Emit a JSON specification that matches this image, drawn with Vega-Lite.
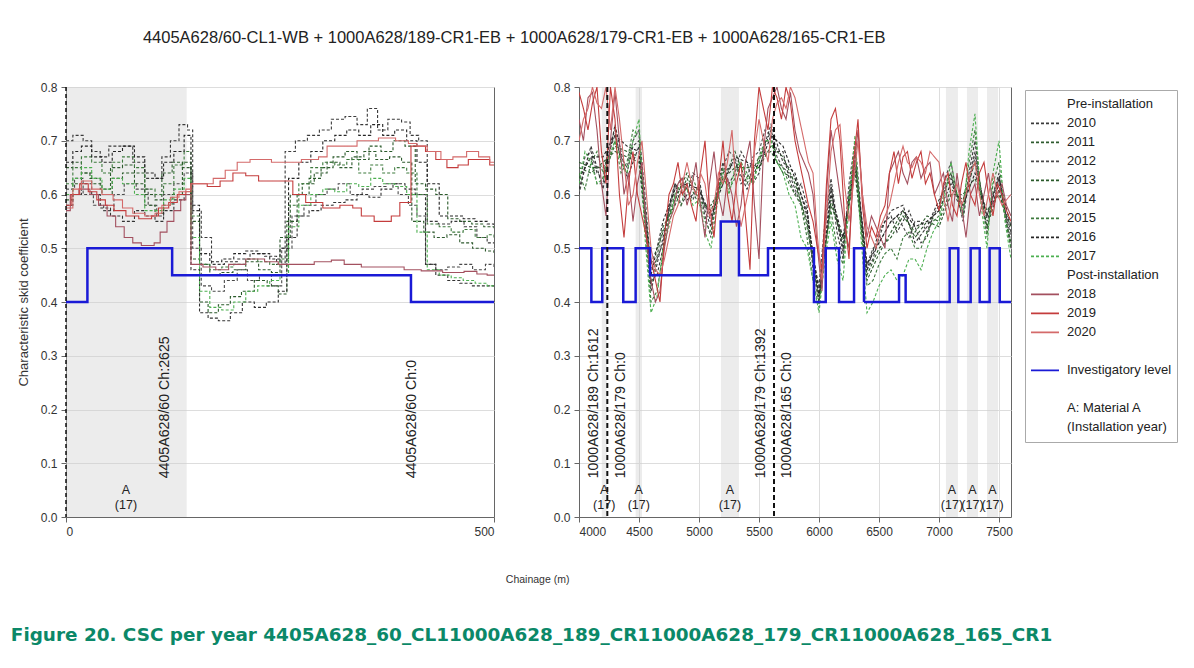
{
"$schema": "https://vega.github.io/schema/vega-lite/v6.json",
"padding": {"left": 10, "top": 30, "right": 10, "bottom": 10},
"background": "white",
"config": {
  "font": "Liberation Sans",
  "view": {"stroke": "#666666", "strokeWidth": 1},
  "axis": {"labelFontSize": 12, "labelColor": "#333333", "tickColor": "#666666", "domainColor": "#666666", "gridColor": "#dddddd", "titleFontSize": 13, "titleFontWeight": "normal", "titleColor": "#333333", "titlePadding": 10, "tickSize": 5, "labelPadding": 4},
  "legend": {"orient": "none", "legendX": 959, "legendY": 3, "symbolType": "stroke", "symbolSize": 784, "symbolStrokeWidth": 1.6, "labelFontSize": 13, "labelColor": "#222222", "padding": 5, "strokeColor": "#aaaaaa", "fillColor": "white", "rowPadding": 0, "clipHeight": 18.8, "labelOffset": 7, "labelLimit": 300},
  "concat": {"spacing": 52},
  "title": {"font": "Liberation Sans"}
},
"title": {"text": "4405A628/60-CL1-WB + 1000A628/189-CR1-EB + 1000A628/179-CR1-EB + 1000A628/165-CR1-EB", "fontSize": 16.5, "fontWeight": "normal", "color": "#222222", "offset": 34, "anchor": "middle", "dx": -80},
"datasets": {
  "Lband": [{"a": 0, "b": 141}],
  "Rband": [{"a": 4190, "b": 4232}, {"a": 4472, "b": 4525}, {"a": 5183, "b": 5333}, {"a": 7058, "b": 7158}, {"a": 7233, "b": 7325}, {"a": 7400, "b": 7492}],
  "Lrule": [{"x": 0}],
  "Rrule": [{"x": 4236}, {"x": 5625}],
  "Llab": [{"x": 116, "t": "4405A628/60 Ch:2625"}, {"x": 404, "t": "4405A628/60 Ch:0"}],
  "Rlab": [{"x": 4125, "t": "1000A628/189 Ch:1612"}, {"x": 4347, "t": "1000A628/179 Ch:0"}, {"x": 5514, "t": "1000A628/179 Ch:1392"}, {"x": 5735, "t": "1000A628/165 Ch:0"}],
  "LA": [{"x": 70, "t": "A\n(17)"}],
  "RA": [{"x": 4210, "t": "A\n(17)"}, {"x": 4498, "t": "A\n(17)"}, {"x": 5258, "t": "A\n(17)"}, {"x": 7108, "t": "A\n(17)"}, {"x": 7279, "t": "A\n(17)"}, {"x": 7446, "t": "A\n(17)"}],
  "LB": [{"s": "Investigatory level", "x": 0, "v": 0.4}, {"s": "Investigatory level", "x": 25, "v": 0.5}, {"s": "Investigatory level", "x": 124, "v": 0.45}, {"s": "Investigatory level", "x": 403, "v": 0.4}, {"s": "Investigatory level", "x": 500, "v": 0.4}],
  "RB": [{"s": "Investigatory level", "x": 4000, "v": 0.5}, {"s": "Investigatory level", "x": 4103, "v": 0.4}, {"s": "Investigatory level", "x": 4194, "v": 0.5}, {"s": "Investigatory level", "x": 4369, "v": 0.4}, {"s": "Investigatory level", "x": 4472, "v": 0.5}, {"s": "Investigatory level", "x": 4592, "v": 0.45}, {"s": "Investigatory level", "x": 5181, "v": 0.55}, {"s": "Investigatory level", "x": 5333, "v": 0.45}, {"s": "Investigatory level", "x": 5575, "v": 0.5}, {"s": "Investigatory level", "x": 5958, "v": 0.4}, {"s": "Investigatory level", "x": 6056, "v": 0.5}, {"s": "Investigatory level", "x": 6167, "v": 0.4}, {"s": "Investigatory level", "x": 6292, "v": 0.5}, {"s": "Investigatory level", "x": 6375, "v": 0.4}, {"s": "Investigatory level", "x": 6667, "v": 0.45}, {"s": "Investigatory level", "x": 6722, "v": 0.4}, {"s": "Investigatory level", "x": 7089, "v": 0.5}, {"s": "Investigatory level", "x": 7161, "v": 0.4}, {"s": "Investigatory level", "x": 7264, "v": 0.5}, {"s": "Investigatory level", "x": 7339, "v": 0.4}, {"s": "Investigatory level", "x": 7422, "v": 0.5}, {"s": "Investigatory level", "x": 7506, "v": 0.4}, {"s": "Investigatory level", "x": 7600, "v": 0.4}],
  "L": [
{"s":"2010","x":0,"v":0.70},{"s":"2010","x":8,"v":0.71},{"s":"2010","x":20,"v":0.70},{"s":"2010","x":30,"v":0.68},{"s":"2010","x":40,"v":0.67},{"s":"2010","x":50,"v":0.69},{"s":"2010","x":62,"v":0.69},{"s":"2010","x":78,"v":0.66},{"s":"2010","x":92,"v":0.63},{"s":"2010","x":105,"v":0.63},{"s":"2010","x":112,"v":0.67},{"s":"2010","x":122,"v":0.70},{"s":"2010","x":132,"v":0.73},{"s":"2010","x":142,"v":0.72},{"s":"2010","x":148,"v":0.57},{"s":"2010","x":158,"v":0.52},{"s":"2010","x":170,"v":0.47},{"s":"2010","x":185,"v":0.475},{"s":"2010","x":200,"v":0.48},{"s":"2010","x":215,"v":0.49},{"s":"2010","x":232,"v":0.485},{"s":"2010","x":246,"v":0.47},{"s":"2010","x":256,"v":0.68},{"s":"2010","x":268,"v":0.70},{"s":"2010","x":282,"v":0.71},{"s":"2010","x":296,"v":0.72},{"s":"2010","x":310,"v":0.74},{"s":"2010","x":326,"v":0.745},{"s":"2010","x":340,"v":0.73},{"s":"2010","x":352,"v":0.76},{"s":"2010","x":364,"v":0.72},{"s":"2010","x":376,"v":0.74},{"s":"2010","x":392,"v":0.735},{"s":"2010","x":402,"v":0.71},{"s":"2010","x":412,"v":0.70},{"s":"2010","x":422,"v":0.55},{"s":"2010","x":435,"v":0.545},{"s":"2010","x":450,"v":0.55},{"s":"2010","x":465,"v":0.54},{"s":"2010","x":480,"v":0.52},{"s":"2010","x":492,"v":0.51},{"s":"2010","x":500,"v":0.51},
{"s":"2011","x":0,"v":0.65},{"s":"2011","x":8,"v":0.66},{"s":"2011","x":18,"v":0.64},{"s":"2011","x":28,"v":0.63},{"s":"2011","x":40,"v":0.61},{"s":"2011","x":52,"v":0.65},{"s":"2011","x":66,"v":0.655},{"s":"2011","x":80,"v":0.64},{"s":"2011","x":92,"v":0.60},{"s":"2011","x":104,"v":0.59},{"s":"2011","x":112,"v":0.64},{"s":"2011","x":124,"v":0.66},{"s":"2011","x":136,"v":0.65},{"s":"2011","x":146,"v":0.55},{"s":"2011","x":156,"v":0.47},{"s":"2011","x":168,"v":0.45},{"s":"2011","x":180,"v":0.455},{"s":"2011","x":195,"v":0.46},{"s":"2011","x":210,"v":0.475},{"s":"2011","x":225,"v":0.46},{"s":"2011","x":240,"v":0.455},{"s":"2011","x":250,"v":0.52},{"s":"2011","x":262,"v":0.60},{"s":"2011","x":276,"v":0.62},{"s":"2011","x":290,"v":0.64},{"s":"2011","x":305,"v":0.66},{"s":"2011","x":320,"v":0.65},{"s":"2011","x":334,"v":0.67},{"s":"2011","x":348,"v":0.68},{"s":"2011","x":362,"v":0.665},{"s":"2011","x":378,"v":0.67},{"s":"2011","x":392,"v":0.66},{"s":"2011","x":404,"v":0.55},{"s":"2011","x":418,"v":0.53},{"s":"2011","x":430,"v":0.52},{"s":"2011","x":445,"v":0.525},{"s":"2011","x":460,"v":0.51},{"s":"2011","x":475,"v":0.50},{"s":"2011","x":490,"v":0.495},{"s":"2011","x":500,"v":0.49},
{"s":"2012","x":0,"v":0.61},{"s":"2012","x":10,"v":0.63},{"s":"2012","x":20,"v":0.60},{"s":"2012","x":32,"v":0.58},{"s":"2012","x":44,"v":0.57},{"s":"2012","x":56,"v":0.60},{"s":"2012","x":68,"v":0.62},{"s":"2012","x":82,"v":0.61},{"s":"2012","x":96,"v":0.58},{"s":"2012","x":106,"v":0.56},{"s":"2012","x":114,"v":0.60},{"s":"2012","x":126,"v":0.62},{"s":"2012","x":138,"v":0.64},{"s":"2012","x":148,"v":0.50},{"s":"2012","x":158,"v":0.43},{"s":"2012","x":170,"v":0.42},{"s":"2012","x":185,"v":0.44},{"s":"2012","x":200,"v":0.46},{"s":"2012","x":212,"v":0.44},{"s":"2012","x":226,"v":0.45},{"s":"2012","x":240,"v":0.43},{"s":"2012","x":252,"v":0.50},{"s":"2012","x":264,"v":0.56},{"s":"2012","x":278,"v":0.58},{"s":"2012","x":292,"v":0.60},{"s":"2012","x":305,"v":0.61},{"s":"2012","x":318,"v":0.62},{"s":"2012","x":332,"v":0.60},{"s":"2012","x":346,"v":0.61},{"s":"2012","x":360,"v":0.615},{"s":"2012","x":374,"v":0.62},{"s":"2012","x":388,"v":0.60},{"s":"2012","x":400,"v":0.58},{"s":"2012","x":410,"v":0.56},{"s":"2012","x":420,"v":0.47},{"s":"2012","x":432,"v":0.46},{"s":"2012","x":446,"v":0.465},{"s":"2012","x":460,"v":0.47},{"s":"2012","x":475,"v":0.46},{"s":"2012","x":490,"v":0.47},{"s":"2012","x":500,"v":0.465},
{"s":"2013","x":0,"v":0.59},{"s":"2013","x":8,"v":0.62},{"s":"2013","x":18,"v":0.64},{"s":"2013","x":30,"v":0.62},{"s":"2013","x":42,"v":0.60},{"s":"2013","x":54,"v":0.63},{"s":"2013","x":66,"v":0.64},{"s":"2013","x":80,"v":0.62},{"s":"2013","x":92,"v":0.58},{"s":"2013","x":104,"v":0.565},{"s":"2013","x":114,"v":0.58},{"s":"2013","x":124,"v":0.60},{"s":"2013","x":136,"v":0.66},{"s":"2013","x":146,"v":0.48},{"s":"2013","x":156,"v":0.40},{"s":"2013","x":166,"v":0.38},{"s":"2013","x":178,"v":0.395},{"s":"2013","x":192,"v":0.41},{"s":"2013","x":205,"v":0.42},{"s":"2013","x":220,"v":0.44},{"s":"2013","x":235,"v":0.43},{"s":"2013","x":248,"v":0.415},{"s":"2013","x":258,"v":0.55},{"s":"2013","x":270,"v":0.60},{"s":"2013","x":284,"v":0.63},{"s":"2013","x":298,"v":0.65},{"s":"2013","x":312,"v":0.67},{"s":"2013","x":326,"v":0.68},{"s":"2013","x":340,"v":0.665},{"s":"2013","x":354,"v":0.69},{"s":"2013","x":368,"v":0.68},{"s":"2013","x":382,"v":0.70},{"s":"2013","x":396,"v":0.69},{"s":"2013","x":408,"v":0.62},{"s":"2013","x":420,"v":0.61},{"s":"2013","x":432,"v":0.60},{"s":"2013","x":446,"v":0.555},{"s":"2013","x":460,"v":0.55},{"s":"2013","x":474,"v":0.545},{"s":"2013","x":488,"v":0.54},{"s":"2013","x":500,"v":0.535},
{"s":"2014","x":0,"v":0.58},{"s":"2014","x":8,"v":0.60},{"s":"2014","x":18,"v":0.62},{"s":"2014","x":30,"v":0.60},{"s":"2014","x":40,"v":0.575},{"s":"2014","x":52,"v":0.56},{"s":"2014","x":66,"v":0.55},{"s":"2014","x":80,"v":0.57},{"s":"2014","x":92,"v":0.56},{"s":"2014","x":104,"v":0.55},{"s":"2014","x":114,"v":0.57},{"s":"2014","x":126,"v":0.59},{"s":"2014","x":138,"v":0.60},{"s":"2014","x":146,"v":0.46},{"s":"2014","x":156,"v":0.38},{"s":"2014","x":166,"v":0.37},{"s":"2014","x":178,"v":0.365},{"s":"2014","x":192,"v":0.38},{"s":"2014","x":206,"v":0.40},{"s":"2014","x":220,"v":0.39},{"s":"2014","x":234,"v":0.40},{"s":"2014","x":248,"v":0.42},{"s":"2014","x":258,"v":0.52},{"s":"2014","x":270,"v":0.56},{"s":"2014","x":284,"v":0.57},{"s":"2014","x":298,"v":0.58},{"s":"2014","x":312,"v":0.585},{"s":"2014","x":326,"v":0.59},{"s":"2014","x":340,"v":0.60},{"s":"2014","x":354,"v":0.595},{"s":"2014","x":368,"v":0.61},{"s":"2014","x":382,"v":0.62},{"s":"2014","x":396,"v":0.61},{"s":"2014","x":408,"v":0.60},{"s":"2014","x":420,"v":0.47},{"s":"2014","x":432,"v":0.45},{"s":"2014","x":446,"v":0.44},{"s":"2014","x":460,"v":0.435},{"s":"2014","x":474,"v":0.43},{"s":"2014","x":488,"v":0.43},{"s":"2014","x":500,"v":0.425},
{"s":"2015","x":0,"v":0.62},{"s":"2015","x":8,"v":0.65},{"s":"2015","x":18,"v":0.67},{"s":"2015","x":30,"v":0.66},{"s":"2015","x":42,"v":0.64},{"s":"2015","x":54,"v":0.66},{"s":"2015","x":66,"v":0.67},{"s":"2015","x":80,"v":0.65},{"s":"2015","x":92,"v":0.61},{"s":"2015","x":104,"v":0.60},{"s":"2015","x":114,"v":0.62},{"s":"2015","x":126,"v":0.655},{"s":"2015","x":138,"v":0.68},{"s":"2015","x":146,"v":0.56},{"s":"2015","x":156,"v":0.47},{"s":"2015","x":168,"v":0.46},{"s":"2015","x":182,"v":0.465},{"s":"2015","x":196,"v":0.47},{"s":"2015","x":210,"v":0.48},{"s":"2015","x":224,"v":0.475},{"s":"2015","x":238,"v":0.47},{"s":"2015","x":250,"v":0.48},{"s":"2015","x":260,"v":0.58},{"s":"2015","x":272,"v":0.62},{"s":"2015","x":286,"v":0.65},{"s":"2015","x":300,"v":0.66},{"s":"2015","x":314,"v":0.655},{"s":"2015","x":328,"v":0.665},{"s":"2015","x":342,"v":0.64},{"s":"2015","x":356,"v":0.655},{"s":"2015","x":370,"v":0.64},{"s":"2015","x":384,"v":0.65},{"s":"2015","x":398,"v":0.64},{"s":"2015","x":410,"v":0.60},{"s":"2015","x":422,"v":0.545},{"s":"2015","x":436,"v":0.54},{"s":"2015","x":450,"v":0.53},{"s":"2015","x":464,"v":0.535},{"s":"2015","x":478,"v":0.52},{"s":"2015","x":492,"v":0.525},{"s":"2015","x":500,"v":0.52},
{"s":"2016","x":0,"v":0.66},{"s":"2016","x":8,"v":0.68},{"s":"2016","x":18,"v":0.69},{"s":"2016","x":30,"v":0.67},{"s":"2016","x":42,"v":0.66},{"s":"2016","x":54,"v":0.68},{"s":"2016","x":66,"v":0.69},{"s":"2016","x":80,"v":0.67},{"s":"2016","x":92,"v":0.64},{"s":"2016","x":104,"v":0.63},{"s":"2016","x":114,"v":0.66},{"s":"2016","x":126,"v":0.68},{"s":"2016","x":138,"v":0.71},{"s":"2016","x":146,"v":0.58},{"s":"2016","x":156,"v":0.49},{"s":"2016","x":168,"v":0.475},{"s":"2016","x":182,"v":0.48},{"s":"2016","x":196,"v":0.49},{"s":"2016","x":210,"v":0.495},{"s":"2016","x":224,"v":0.49},{"s":"2016","x":238,"v":0.48},{"s":"2016","x":250,"v":0.50},{"s":"2016","x":260,"v":0.63},{"s":"2016","x":272,"v":0.66},{"s":"2016","x":286,"v":0.68},{"s":"2016","x":300,"v":0.70},{"s":"2016","x":314,"v":0.71},{"s":"2016","x":328,"v":0.72},{"s":"2016","x":342,"v":0.71},{"s":"2016","x":356,"v":0.73},{"s":"2016","x":370,"v":0.71},{"s":"2016","x":384,"v":0.72},{"s":"2016","x":398,"v":0.70},{"s":"2016","x":410,"v":0.66},{"s":"2016","x":422,"v":0.62},{"s":"2016","x":436,"v":0.56},{"s":"2016","x":450,"v":0.56},{"s":"2016","x":464,"v":0.555},{"s":"2016","x":478,"v":0.55},{"s":"2016","x":492,"v":0.545},{"s":"2016","x":500,"v":0.54},
{"s":"2017","x":0,"v":0.60},{"s":"2017","x":8,"v":0.63},{"s":"2017","x":18,"v":0.65},{"s":"2017","x":30,"v":0.63},{"s":"2017","x":42,"v":0.61},{"s":"2017","x":54,"v":0.63},{"s":"2017","x":66,"v":0.62},{"s":"2017","x":80,"v":0.60},{"s":"2017","x":92,"v":0.57},{"s":"2017","x":104,"v":0.57},{"s":"2017","x":114,"v":0.59},{"s":"2017","x":126,"v":0.61},{"s":"2017","x":138,"v":0.63},{"s":"2017","x":146,"v":0.52},{"s":"2017","x":156,"v":0.42},{"s":"2017","x":168,"v":0.39},{"s":"2017","x":182,"v":0.385},{"s":"2017","x":196,"v":0.40},{"s":"2017","x":210,"v":0.42},{"s":"2017","x":224,"v":0.43},{"s":"2017","x":238,"v":0.44},{"s":"2017","x":250,"v":0.45},{"s":"2017","x":260,"v":0.54},{"s":"2017","x":272,"v":0.58},{"s":"2017","x":286,"v":0.60},{"s":"2017","x":300,"v":0.61},{"s":"2017","x":314,"v":0.605},{"s":"2017","x":328,"v":0.62},{"s":"2017","x":342,"v":0.615},{"s":"2017","x":356,"v":0.63},{"s":"2017","x":370,"v":0.62},{"s":"2017","x":384,"v":0.615},{"s":"2017","x":398,"v":0.60},{"s":"2017","x":410,"v":0.53},{"s":"2017","x":422,"v":0.46},{"s":"2017","x":436,"v":0.45},{"s":"2017","x":450,"v":0.445},{"s":"2017","x":464,"v":0.44},{"s":"2017","x":478,"v":0.435},{"s":"2017","x":492,"v":0.43},{"s":"2017","x":500,"v":0.43},
{"s":"2018","x":0,"v":0.57},{"s":"2018","x":5,"v":0.60},{"s":"2018","x":15,"v":0.61},{"s":"2018","x":28,"v":0.60},{"s":"2018","x":38,"v":0.58},{"s":"2018","x":48,"v":0.56},{"s":"2018","x":58,"v":0.54},{"s":"2018","x":68,"v":0.52},{"s":"2018","x":78,"v":0.51},{"s":"2018","x":88,"v":0.505},{"s":"2018","x":103,"v":0.51},{"s":"2018","x":110,"v":0.53},{"s":"2018","x":118,"v":0.55},{"s":"2018","x":126,"v":0.57},{"s":"2018","x":134,"v":0.59},{"s":"2018","x":140,"v":0.60},{"s":"2018","x":146,"v":0.47},{"s":"2018","x":160,"v":0.465},{"s":"2018","x":175,"v":0.46},{"s":"2018","x":190,"v":0.47},{"s":"2018","x":210,"v":0.48},{"s":"2018","x":232,"v":0.475},{"s":"2018","x":248,"v":0.47},{"s":"2018","x":290,"v":0.475},{"s":"2018","x":310,"v":0.478},{"s":"2018","x":325,"v":0.47},{"s":"2018","x":345,"v":0.465},{"s":"2018","x":395,"v":0.46},{"s":"2018","x":415,"v":0.458},{"s":"2018","x":440,"v":0.455},{"s":"2018","x":465,"v":0.457},{"s":"2018","x":480,"v":0.452},{"s":"2018","x":492,"v":0.45},{"s":"2018","x":500,"v":0.45},
{"s":"2019","x":0,"v":0.58},{"s":"2019","x":6,"v":0.60},{"s":"2019","x":16,"v":0.62},{"s":"2019","x":26,"v":0.605},{"s":"2019","x":36,"v":0.59},{"s":"2019","x":46,"v":0.58},{"s":"2019","x":56,"v":0.57},{"s":"2019","x":70,"v":0.56},{"s":"2019","x":85,"v":0.555},{"s":"2019","x":100,"v":0.56},{"s":"2019","x":108,"v":0.575},{"s":"2019","x":120,"v":0.585},{"s":"2019","x":130,"v":0.60},{"s":"2019","x":140,"v":0.605},{"s":"2019","x":146,"v":0.62},{"s":"2019","x":165,"v":0.615},{"s":"2019","x":180,"v":0.625},{"s":"2019","x":195,"v":0.64},{"s":"2019","x":210,"v":0.635},{"s":"2019","x":225,"v":0.625},{"s":"2019","x":250,"v":0.625},{"s":"2019","x":265,"v":0.60},{"s":"2019","x":280,"v":0.585},{"s":"2019","x":300,"v":0.575},{"s":"2019","x":320,"v":0.58},{"s":"2019","x":335,"v":0.575},{"s":"2019","x":345,"v":0.56},{"s":"2019","x":360,"v":0.55},{"s":"2019","x":380,"v":0.56},{"s":"2019","x":390,"v":0.585},{"s":"2019","x":403,"v":0.69},{"s":"2019","x":420,"v":0.68},{"s":"2019","x":432,"v":0.665},{"s":"2019","x":445,"v":0.65},{"s":"2019","x":458,"v":0.655},{"s":"2019","x":470,"v":0.665},{"s":"2019","x":485,"v":0.665},{"s":"2019","x":495,"v":0.655},{"s":"2019","x":500,"v":0.655},
{"s":"2020","x":0,"v":0.575},{"s":"2020","x":8,"v":0.61},{"s":"2020","x":18,"v":0.625},{"s":"2020","x":30,"v":0.61},{"s":"2020","x":42,"v":0.60},{"s":"2020","x":55,"v":0.59},{"s":"2020","x":66,"v":0.575},{"s":"2020","x":78,"v":0.565},{"s":"2020","x":92,"v":0.56},{"s":"2020","x":104,"v":0.565},{"s":"2020","x":112,"v":0.58},{"s":"2020","x":122,"v":0.595},{"s":"2020","x":132,"v":0.605},{"s":"2020","x":140,"v":0.61},{"s":"2020","x":146,"v":0.62},{"s":"2020","x":160,"v":0.62},{"s":"2020","x":172,"v":0.63},{"s":"2020","x":186,"v":0.645},{"s":"2020","x":200,"v":0.66},{"s":"2020","x":215,"v":0.665},{"s":"2020","x":240,"v":0.66},{"s":"2020","x":255,"v":0.66},{"s":"2020","x":275,"v":0.665},{"s":"2020","x":295,"v":0.67},{"s":"2020","x":305,"v":0.69},{"s":"2020","x":318,"v":0.69},{"s":"2020","x":340,"v":0.70},{"s":"2020","x":365,"v":0.705},{"s":"2020","x":385,"v":0.70},{"s":"2020","x":400,"v":0.695},{"s":"2020","x":410,"v":0.69},{"s":"2020","x":422,"v":0.68},{"s":"2020","x":438,"v":0.665},{"s":"2020","x":452,"v":0.67},{"s":"2020","x":468,"v":0.68},{"s":"2020","x":482,"v":0.67},{"s":"2020","x":495,"v":0.66},{"s":"2020","x":500,"v":0.66}
  ],
  "R": [
{"s":"2010","x":4000,"v":0.62},{"s":"2010","x":4100,"v":0.68},{"s":"2010","x":4200,"v":0.63},{"s":"2010","x":4300,"v":0.72},{"s":"2010","x":4400,"v":0.64},{"s":"2010","x":4500,"v":0.70},{"s":"2010","x":4600,"v":0.44},{"s":"2010","x":4700,"v":0.50},{"s":"2010","x":4800,"v":0.62},{"s":"2010","x":4900,"v":0.60},{"s":"2010","x":5000,"v":0.63},{"s":"2010","x":5100,"v":0.54},{"s":"2010","x":5200,"v":0.66},{"s":"2010","x":5300,"v":0.64},{"s":"2010","x":5400,"v":0.66},{"s":"2010","x":5500,"v":0.64},{"s":"2010","x":5600,"v":0.72},{"s":"2010","x":5700,"v":0.68},{"s":"2010","x":5800,"v":0.60},{"s":"2010","x":5900,"v":0.58},{"s":"2010","x":6000,"v":0.40},{"s":"2010","x":6100,"v":0.62},{"s":"2010","x":6200,"v":0.48},{"s":"2010","x":6300,"v":0.68},{"s":"2010","x":6400,"v":0.46},{"s":"2010","x":6500,"v":0.52},{"s":"2010","x":6600,"v":0.56},{"s":"2010","x":6700,"v":0.55},{"s":"2010","x":6800,"v":0.54},{"s":"2010","x":6900,"v":0.52},{"s":"2010","x":7000,"v":0.58},{"s":"2010","x":7100,"v":0.64},{"s":"2010","x":7200,"v":0.56},{"s":"2010","x":7300,"v":0.70},{"s":"2010","x":7400,"v":0.53},{"s":"2010","x":7500,"v":0.64},{"s":"2010","x":7600,"v":0.50},
{"s":"2010","x":4050,"v":0.67},{"s":"2010","x":4150,"v":0.64},{"s":"2010","x":4250,"v":0.69},{"s":"2010","x":4350,"v":0.66},{"s":"2010","x":4450,"v":0.69},{"s":"2010","x":4550,"v":0.58},{"s":"2010","x":4650,"v":0.45},{"s":"2010","x":4750,"v":0.58},{"s":"2010","x":4850,"v":0.58},{"s":"2010","x":4950,"v":0.64},{"s":"2010","x":5050,"v":0.57},{"s":"2010","x":5150,"v":0.61},{"s":"2010","x":5250,"v":0.62},{"s":"2010","x":5350,"v":0.68},{"s":"2010","x":5450,"v":0.62},{"s":"2010","x":5550,"v":0.69},{"s":"2010","x":5650,"v":0.68},{"s":"2010","x":5750,"v":0.63},{"s":"2010","x":5850,"v":0.62},{"s":"2010","x":5950,"v":0.46},{"s":"2010","x":6050,"v":0.54},{"s":"2010","x":6150,"v":0.53},{"s":"2010","x":6250,"v":0.60},{"s":"2010","x":6350,"v":0.55},{"s":"2010","x":6450,"v":0.48},{"s":"2010","x":6550,"v":0.55},{"s":"2010","x":6650,"v":0.53},{"s":"2010","x":6750,"v":0.57},{"s":"2010","x":6850,"v":0.51},{"s":"2010","x":6950,"v":0.56},{"s":"2010","x":7050,"v":0.62},{"s":"2010","x":7150,"v":0.59},{"s":"2010","x":7250,"v":0.64},{"s":"2010","x":7350,"v":0.60},{"s":"2010","x":7450,"v":0.60},{"s":"2010","x":7550,"v":0.56},
{"s":"2011","x":4000,"v":0.65},{"s":"2011","x":4100,"v":0.64},{"s":"2011","x":4200,"v":0.66},{"s":"2011","x":4300,"v":0.68},{"s":"2011","x":4400,"v":0.67},{"s":"2011","x":4500,"v":0.66},{"s":"2011","x":4600,"v":0.43},{"s":"2011","x":4700,"v":0.54},{"s":"2011","x":4800,"v":0.58},{"s":"2011","x":4900,"v":0.63},{"s":"2011","x":5000,"v":0.58},{"s":"2011","x":5100,"v":0.58},{"s":"2011","x":5200,"v":0.62},{"s":"2011","x":5300,"v":0.68},{"s":"2011","x":5400,"v":0.62},{"s":"2011","x":5500,"v":0.67},{"s":"2011","x":5600,"v":0.68},{"s":"2011","x":5700,"v":0.64},{"s":"2011","x":5800,"v":0.63},{"s":"2011","x":5900,"v":0.54},{"s":"2011","x":6000,"v":0.41},{"s":"2011","x":6100,"v":0.58},{"s":"2011","x":6200,"v":0.52},{"s":"2011","x":6300,"v":0.64},{"s":"2011","x":6400,"v":0.44},{"s":"2011","x":6500,"v":0.49},{"s":"2011","x":6600,"v":0.53},{"s":"2011","x":6700,"v":0.57},{"s":"2011","x":6800,"v":0.52},{"s":"2011","x":6900,"v":0.55},{"s":"2011","x":7000,"v":0.54},{"s":"2011","x":7100,"v":0.60},{"s":"2011","x":7200,"v":0.60},{"s":"2011","x":7300,"v":0.63},{"s":"2011","x":7400,"v":0.57},{"s":"2011","x":7500,"v":0.60},{"s":"2011","x":7600,"v":0.54},
{"s":"2012","x":4000,"v":0.60},{"s":"2012","x":4100,"v":0.67},{"s":"2012","x":4200,"v":0.62},{"s":"2012","x":4300,"v":0.71},{"s":"2012","x":4400,"v":0.65},{"s":"2012","x":4500,"v":0.72},{"s":"2012","x":4600,"v":0.46},{"s":"2012","x":4700,"v":0.51},{"s":"2012","x":4800,"v":0.61},{"s":"2012","x":4900,"v":0.61},{"s":"2012","x":5000,"v":0.62},{"s":"2012","x":5100,"v":0.52},{"s":"2012","x":5200,"v":0.65},{"s":"2012","x":5300,"v":0.67},{"s":"2012","x":5400,"v":0.63},{"s":"2012","x":5500,"v":0.68},{"s":"2012","x":5600,"v":0.71},{"s":"2012","x":5700,"v":0.65},{"s":"2012","x":5800,"v":0.61},{"s":"2012","x":5900,"v":0.57},{"s":"2012","x":6000,"v":0.43},{"s":"2012","x":6100,"v":0.63},{"s":"2012","x":6200,"v":0.49},{"s":"2012","x":6300,"v":0.70},{"s":"2012","x":6400,"v":0.47},{"s":"2012","x":6500,"v":0.51},{"s":"2012","x":6600,"v":0.55},{"s":"2012","x":6700,"v":0.54},{"s":"2012","x":6800,"v":0.55},{"s":"2012","x":6900,"v":0.53},{"s":"2012","x":7000,"v":0.57},{"s":"2012","x":7100,"v":0.66},{"s":"2012","x":7200,"v":0.55},{"s":"2012","x":7300,"v":0.68},{"s":"2012","x":7400,"v":0.56},{"s":"2012","x":7500,"v":0.63},{"s":"2012","x":7600,"v":0.53},
{"s":"2012","x":4050,"v":0.65},{"s":"2012","x":4150,"v":0.62},{"s":"2012","x":4250,"v":0.68},{"s":"2012","x":4350,"v":0.67},{"s":"2012","x":4450,"v":0.70},{"s":"2012","x":4550,"v":0.60},{"s":"2012","x":4650,"v":0.48},{"s":"2012","x":4750,"v":0.57},{"s":"2012","x":4850,"v":0.63},{"s":"2012","x":4950,"v":0.59},{"s":"2012","x":5050,"v":0.56},{"s":"2012","x":5150,"v":0.60},{"s":"2012","x":5250,"v":0.68},{"s":"2012","x":5350,"v":0.62},{"s":"2012","x":5450,"v":0.67},{"s":"2012","x":5550,"v":0.72},{"s":"2012","x":5650,"v":0.67},{"s":"2012","x":5750,"v":0.64},{"s":"2012","x":5850,"v":0.58},{"s":"2012","x":5950,"v":0.48},{"s":"2012","x":6050,"v":0.55},{"s":"2012","x":6150,"v":0.55},{"s":"2012","x":6250,"v":0.62},{"s":"2012","x":6350,"v":0.57},{"s":"2012","x":6450,"v":0.50},{"s":"2012","x":6550,"v":0.53},{"s":"2012","x":6650,"v":0.56},{"s":"2012","x":6750,"v":0.52},{"s":"2012","x":6850,"v":0.55},{"s":"2012","x":6950,"v":0.56},{"s":"2012","x":7050,"v":0.63},{"s":"2012","x":7150,"v":0.60},{"s":"2012","x":7250,"v":0.63},{"s":"2012","x":7350,"v":0.61},{"s":"2012","x":7450,"v":0.60},{"s":"2012","x":7550,"v":0.57},
{"s":"2013","x":4000,"v":0.66},{"s":"2013","x":4100,"v":0.65},{"s":"2013","x":4200,"v":0.65},{"s":"2013","x":4300,"v":0.69},{"s":"2013","x":4400,"v":0.68},{"s":"2013","x":4500,"v":0.67},{"s":"2013","x":4600,"v":0.47},{"s":"2013","x":4700,"v":0.53},{"s":"2013","x":4800,"v":0.59},{"s":"2013","x":4900,"v":0.64},{"s":"2013","x":5000,"v":0.59},{"s":"2013","x":5100,"v":0.57},{"s":"2013","x":5200,"v":0.63},{"s":"2013","x":5300,"v":0.65},{"s":"2013","x":5400,"v":0.65},{"s":"2013","x":5500,"v":0.65},{"s":"2013","x":5600,"v":0.69},{"s":"2013","x":5700,"v":0.67},{"s":"2013","x":5800,"v":0.62},{"s":"2013","x":5900,"v":0.55},{"s":"2013","x":6000,"v":0.40},{"s":"2013","x":6100,"v":0.59},{"s":"2013","x":6200,"v":0.51},{"s":"2013","x":6300,"v":0.65},{"s":"2013","x":6400,"v":0.45},{"s":"2013","x":6500,"v":0.50},{"s":"2013","x":6600,"v":0.52},{"s":"2013","x":6700,"v":0.56},{"s":"2013","x":6800,"v":0.53},{"s":"2013","x":6900,"v":0.56},{"s":"2013","x":7000,"v":0.55},{"s":"2013","x":7100,"v":0.61},{"s":"2013","x":7200,"v":0.59},{"s":"2013","x":7300,"v":0.66},{"s":"2013","x":7400,"v":0.54},{"s":"2013","x":7500,"v":0.61},{"s":"2013","x":7600,"v":0.51},
{"s":"2014","x":4000,"v":0.61},{"s":"2014","x":4100,"v":0.69},{"s":"2014","x":4200,"v":0.61},{"s":"2014","x":4300,"v":0.73},{"s":"2014","x":4400,"v":0.63},{"s":"2014","x":4500,"v":0.69},{"s":"2014","x":4600,"v":0.42},{"s":"2014","x":4700,"v":0.52},{"s":"2014","x":4800,"v":0.62},{"s":"2014","x":4900,"v":0.59},{"s":"2014","x":5000,"v":0.61},{"s":"2014","x":5100,"v":0.55},{"s":"2014","x":5200,"v":0.64},{"s":"2014","x":5300,"v":0.66},{"s":"2014","x":5400,"v":0.61},{"s":"2014","x":5500,"v":0.66},{"s":"2014","x":5600,"v":0.73},{"s":"2014","x":5700,"v":0.66},{"s":"2014","x":5800,"v":0.64},{"s":"2014","x":5900,"v":0.56},{"s":"2014","x":6000,"v":0.42},{"s":"2014","x":6100,"v":0.61},{"s":"2014","x":6200,"v":0.50},{"s":"2014","x":6300,"v":0.67},{"s":"2014","x":6400,"v":0.46},{"s":"2014","x":6500,"v":0.53},{"s":"2014","x":6600,"v":0.57},{"s":"2014","x":6700,"v":0.58},{"s":"2014","x":6800,"v":0.51},{"s":"2014","x":6900,"v":0.54},{"s":"2014","x":7000,"v":0.59},{"s":"2014","x":7100,"v":0.63},{"s":"2014","x":7200,"v":0.57},{"s":"2014","x":7300,"v":0.67},{"s":"2014","x":7400,"v":0.55},{"s":"2014","x":7500,"v":0.62},{"s":"2014","x":7600,"v":0.52},
{"s":"2015","x":4000,"v":0.64},{"s":"2015","x":4100,"v":0.66},{"s":"2015","x":4200,"v":0.64},{"s":"2015","x":4300,"v":0.70},{"s":"2015","x":4400,"v":0.66},{"s":"2015","x":4500,"v":0.71},{"s":"2015","x":4600,"v":0.40},{"s":"2015","x":4700,"v":0.49},{"s":"2015","x":4800,"v":0.60},{"s":"2015","x":4900,"v":0.62},{"s":"2015","x":5000,"v":0.60},{"s":"2015","x":5100,"v":0.53},{"s":"2015","x":5200,"v":0.65},{"s":"2015","x":5300,"v":0.63},{"s":"2015","x":5400,"v":0.64},{"s":"2015","x":5500,"v":0.67},{"s":"2015","x":5600,"v":0.70},{"s":"2015","x":5700,"v":0.65},{"s":"2015","x":5800,"v":0.60},{"s":"2015","x":5900,"v":0.52},{"s":"2015","x":6000,"v":0.39},{"s":"2015","x":6100,"v":0.57},{"s":"2015","x":6200,"v":0.47},{"s":"2015","x":6300,"v":0.69},{"s":"2015","x":6400,"v":0.43},{"s":"2015","x":6500,"v":0.47},{"s":"2015","x":6600,"v":0.50},{"s":"2015","x":6700,"v":0.52},{"s":"2015","x":6800,"v":0.50},{"s":"2015","x":6900,"v":0.53},{"s":"2015","x":7000,"v":0.56},{"s":"2015","x":7100,"v":0.64},{"s":"2015","x":7200,"v":0.58},{"s":"2015","x":7300,"v":0.72},{"s":"2015","x":7400,"v":0.52},{"s":"2015","x":7500,"v":0.66},{"s":"2015","x":7600,"v":0.50},
{"s":"2015","x":4050,"v":0.61},{"s":"2015","x":4150,"v":0.68},{"s":"2015","x":4250,"v":0.66},{"s":"2015","x":4350,"v":0.64},{"s":"2015","x":4450,"v":0.72},{"s":"2015","x":4550,"v":0.55},{"s":"2015","x":4650,"v":0.42},{"s":"2015","x":4750,"v":0.56},{"s":"2015","x":4850,"v":0.58},{"s":"2015","x":4950,"v":0.63},{"s":"2015","x":5050,"v":0.55},{"s":"2015","x":5150,"v":0.60},{"s":"2015","x":5250,"v":0.61},{"s":"2015","x":5350,"v":0.66},{"s":"2015","x":5450,"v":0.62},{"s":"2015","x":5550,"v":0.70},{"s":"2015","x":5650,"v":0.66},{"s":"2015","x":5750,"v":0.62},{"s":"2015","x":5850,"v":0.58},{"s":"2015","x":5950,"v":0.44},{"s":"2015","x":6050,"v":0.50},{"s":"2015","x":6150,"v":0.50},{"s":"2015","x":6250,"v":0.60},{"s":"2015","x":6350,"v":0.54},{"s":"2015","x":6450,"v":0.44},{"s":"2015","x":6550,"v":0.49},{"s":"2015","x":6650,"v":0.48},{"s":"2015","x":6750,"v":0.53},{"s":"2015","x":6850,"v":0.50},{"s":"2015","x":6950,"v":0.55},{"s":"2015","x":7050,"v":0.61},{"s":"2015","x":7150,"v":0.60},{"s":"2015","x":7250,"v":0.66},{"s":"2015","x":7350,"v":0.60},{"s":"2015","x":7450,"v":0.62},{"s":"2015","x":7550,"v":0.56},
{"s":"2016","x":4000,"v":0.63},{"s":"2016","x":4100,"v":0.67},{"s":"2016","x":4200,"v":0.67},{"s":"2016","x":4300,"v":0.71},{"s":"2016","x":4400,"v":0.69},{"s":"2016","x":4500,"v":0.68},{"s":"2016","x":4600,"v":0.45},{"s":"2016","x":4700,"v":0.55},{"s":"2016","x":4800,"v":0.61},{"s":"2016","x":4900,"v":0.62},{"s":"2016","x":5000,"v":0.61},{"s":"2016","x":5100,"v":0.56},{"s":"2016","x":5200,"v":0.62},{"s":"2016","x":5300,"v":0.67},{"s":"2016","x":5400,"v":0.66},{"s":"2016","x":5500,"v":0.65},{"s":"2016","x":5600,"v":0.71},{"s":"2016","x":5700,"v":0.69},{"s":"2016","x":5800,"v":0.63},{"s":"2016","x":5900,"v":0.57},{"s":"2016","x":6000,"v":0.41},{"s":"2016","x":6100,"v":0.60},{"s":"2016","x":6200,"v":0.52},{"s":"2016","x":6300,"v":0.66},{"s":"2016","x":6400,"v":0.47},{"s":"2016","x":6500,"v":0.51},{"s":"2016","x":6600,"v":0.55},{"s":"2016","x":6700,"v":0.57},{"s":"2016","x":6800,"v":0.54},{"s":"2016","x":6900,"v":0.55},{"s":"2016","x":7000,"v":0.57},{"s":"2016","x":7100,"v":0.62},{"s":"2016","x":7200,"v":0.58},{"s":"2016","x":7300,"v":0.64},{"s":"2016","x":7400,"v":0.56},{"s":"2016","x":7500,"v":0.63},{"s":"2016","x":7600,"v":0.54},
{"s":"2017","x":4000,"v":0.62},{"s":"2017","x":4100,"v":0.66},{"s":"2017","x":4200,"v":0.63},{"s":"2017","x":4300,"v":0.70},{"s":"2017","x":4400,"v":0.64},{"s":"2017","x":4500,"v":0.74},{"s":"2017","x":4600,"v":0.38},{"s":"2017","x":4700,"v":0.50},{"s":"2017","x":4800,"v":0.60},{"s":"2017","x":4900,"v":0.61},{"s":"2017","x":5000,"v":0.59},{"s":"2017","x":5100,"v":0.50},{"s":"2017","x":5200,"v":0.64},{"s":"2017","x":5300,"v":0.65},{"s":"2017","x":5400,"v":0.63},{"s":"2017","x":5500,"v":0.66},{"s":"2017","x":5600,"v":0.70},{"s":"2017","x":5700,"v":0.64},{"s":"2017","x":5800,"v":0.58},{"s":"2017","x":5900,"v":0.50},{"s":"2017","x":6000,"v":0.38},{"s":"2017","x":6100,"v":0.55},{"s":"2017","x":6200,"v":0.44},{"s":"2017","x":6300,"v":0.71},{"s":"2017","x":6400,"v":0.38},{"s":"2017","x":6500,"v":0.43},{"s":"2017","x":6600,"v":0.46},{"s":"2017","x":6700,"v":0.45},{"s":"2017","x":6800,"v":0.48},{"s":"2017","x":6900,"v":0.50},{"s":"2017","x":7000,"v":0.55},{"s":"2017","x":7100,"v":0.66},{"s":"2017","x":7200,"v":0.56},{"s":"2017","x":7300,"v":0.75},{"s":"2017","x":7400,"v":0.50},{"s":"2017","x":7500,"v":0.70},{"s":"2017","x":7600,"v":0.48},
{"s":"2017","x":4050,"v":0.68},{"s":"2017","x":4150,"v":0.62},{"s":"2017","x":4250,"v":0.67},{"s":"2017","x":4350,"v":0.66},{"s":"2017","x":4450,"v":0.70},{"s":"2017","x":4550,"v":0.52},{"s":"2017","x":4650,"v":0.41},{"s":"2017","x":4750,"v":0.54},{"s":"2017","x":4850,"v":0.62},{"s":"2017","x":4950,"v":0.58},{"s":"2017","x":5050,"v":0.53},{"s":"2017","x":5150,"v":0.58},{"s":"2017","x":5250,"v":0.60},{"s":"2017","x":5350,"v":0.66},{"s":"2017","x":5450,"v":0.62},{"s":"2017","x":5550,"v":0.70},{"s":"2017","x":5650,"v":0.66},{"s":"2017","x":5750,"v":0.60},{"s":"2017","x":5850,"v":0.52},{"s":"2017","x":5950,"v":0.44},{"s":"2017","x":6050,"v":0.48},{"s":"2017","x":6150,"v":0.48},{"s":"2017","x":6250,"v":0.58},{"s":"2017","x":6350,"v":0.52},{"s":"2017","x":6450,"v":0.40},{"s":"2017","x":6550,"v":0.45},{"s":"2017","x":6650,"v":0.44},{"s":"2017","x":6750,"v":0.48},{"s":"2017","x":6850,"v":0.46},{"s":"2017","x":6950,"v":0.53},{"s":"2017","x":7050,"v":0.60},{"s":"2017","x":7150,"v":0.60},{"s":"2017","x":7250,"v":0.68},{"s":"2017","x":7350,"v":0.58},{"s":"2017","x":7450,"v":0.64},{"s":"2017","x":7550,"v":0.55},
{"s":"2018","x":4000,"v":0.74},{"s":"2018","x":4075,"v":0.78},{"s":"2018","x":4150,"v":0.72},{"s":"2018","x":4225,"v":0.56},{"s":"2018","x":4300,"v":0.79},{"s":"2018","x":4375,"v":0.60},{"s":"2018","x":4450,"v":0.55},{"s":"2018","x":4525,"v":0.66},{"s":"2018","x":4600,"v":0.44},{"s":"2018","x":4675,"v":0.42},{"s":"2018","x":4750,"v":0.55},{"s":"2018","x":4825,"v":0.62},{"s":"2018","x":4900,"v":0.58},{"s":"2018","x":4975,"v":0.66},{"s":"2018","x":5050,"v":0.52},{"s":"2018","x":5125,"v":0.68},{"s":"2018","x":5200,"v":0.56},{"s":"2018","x":5275,"v":0.60},{"s":"2018","x":5350,"v":0.58},{"s":"2018","x":5425,"v":0.70},{"s":"2018","x":5500,"v":0.48},{"s":"2018","x":5575,"v":0.76},{"s":"2018","x":5650,"v":0.80},{"s":"2018","x":5725,"v":0.74},{"s":"2018","x":5800,"v":0.72},{"s":"2018","x":5875,"v":0.66},{"s":"2018","x":5950,"v":0.60},{"s":"2018","x":6025,"v":0.42},{"s":"2018","x":6100,"v":0.72},{"s":"2018","x":6175,"v":0.60},{"s":"2018","x":6250,"v":0.50},{"s":"2018","x":6325,"v":0.72},{"s":"2018","x":6400,"v":0.52},{"s":"2018","x":6475,"v":0.54},{"s":"2018","x":6550,"v":0.50},{"s":"2018","x":6625,"v":0.66},{"s":"2018","x":6700,"v":0.64},{"s":"2018","x":6775,"v":0.66},{"s":"2018","x":6850,"v":0.63},{"s":"2018","x":6925,"v":0.66},{"s":"2018","x":7000,"v":0.62},{"s":"2018","x":7075,"v":0.58},{"s":"2018","x":7150,"v":0.64},{"s":"2018","x":7225,"v":0.52},{"s":"2018","x":7300,"v":0.62},{"s":"2018","x":7375,"v":0.60},{"s":"2018","x":7450,"v":0.58},{"s":"2018","x":7525,"v":0.62},{"s":"2018","x":7600,"v":0.56},
{"s":"2018","x":4037,"v":0.70},{"s":"2018","x":4112,"v":0.79},{"s":"2018","x":4187,"v":0.62},{"s":"2018","x":4262,"v":0.70},{"s":"2018","x":4337,"v":0.70},{"s":"2018","x":4412,"v":0.64},{"s":"2018","x":4487,"v":0.62},{"s":"2018","x":4562,"v":0.52},{"s":"2018","x":4637,"v":0.40},{"s":"2018","x":4712,"v":0.50},{"s":"2018","x":4787,"v":0.57},{"s":"2018","x":4862,"v":0.63},{"s":"2018","x":4937,"v":0.61},{"s":"2018","x":5012,"v":0.58},{"s":"2018","x":5087,"v":0.62},{"s":"2018","x":5162,"v":0.60},{"s":"2018","x":5237,"v":0.63},{"s":"2018","x":5312,"v":0.54},{"s":"2018","x":5387,"v":0.66},{"s":"2018","x":5462,"v":0.58},{"s":"2018","x":5537,"v":0.68},{"s":"2018","x":5612,"v":0.78},{"s":"2018","x":5687,"v":0.76},{"s":"2018","x":5762,"v":0.79},{"s":"2018","x":5837,"v":0.68},{"s":"2018","x":5912,"v":0.64},{"s":"2018","x":5987,"v":0.50},{"s":"2018","x":6062,"v":0.60},{"s":"2018","x":6137,"v":0.66},{"s":"2018","x":6212,"v":0.54},{"s":"2018","x":6287,"v":0.64},{"s":"2018","x":6362,"v":0.60},{"s":"2018","x":6437,"v":0.56},{"s":"2018","x":6512,"v":0.52},{"s":"2018","x":6587,"v":0.64},{"s":"2018","x":6662,"v":0.68},{"s":"2018","x":6737,"v":0.62},{"s":"2018","x":6812,"v":0.67},{"s":"2018","x":6887,"v":0.65},{"s":"2018","x":6962,"v":0.60},{"s":"2018","x":7037,"v":0.64},{"s":"2018","x":7112,"v":0.55},{"s":"2018","x":7187,"v":0.58},{"s":"2018","x":7262,"v":0.60},{"s":"2018","x":7337,"v":0.56},{"s":"2018","x":7412,"v":0.64},{"s":"2018","x":7487,"v":0.60},{"s":"2018","x":7562,"v":0.58},
{"s":"2019","x":4000,"v":0.79},{"s":"2019","x":4075,"v":0.72},{"s":"2019","x":4150,"v":0.80},{"s":"2019","x":4225,"v":0.62},{"s":"2019","x":4300,"v":0.74},{"s":"2019","x":4375,"v":0.52},{"s":"2019","x":4450,"v":0.68},{"s":"2019","x":4525,"v":0.56},{"s":"2019","x":4600,"v":0.48},{"s":"2019","x":4675,"v":0.40},{"s":"2019","x":4750,"v":0.60},{"s":"2019","x":4825,"v":0.66},{"s":"2019","x":4900,"v":0.62},{"s":"2019","x":4975,"v":0.55},{"s":"2019","x":5050,"v":0.70},{"s":"2019","x":5125,"v":0.52},{"s":"2019","x":5200,"v":0.70},{"s":"2019","x":5275,"v":0.55},{"s":"2019","x":5350,"v":0.66},{"s":"2019","x":5425,"v":0.46},{"s":"2019","x":5500,"v":0.80},{"s":"2019","x":5575,"v":0.72},{"s":"2019","x":5650,"v":0.78},{"s":"2019","x":5725,"v":0.80},{"s":"2019","x":5800,"v":0.70},{"s":"2019","x":5875,"v":0.62},{"s":"2019","x":5950,"v":0.55},{"s":"2019","x":6025,"v":0.46},{"s":"2019","x":6100,"v":0.74},{"s":"2019","x":6175,"v":0.70},{"s":"2019","x":6250,"v":0.48},{"s":"2019","x":6325,"v":0.74},{"s":"2019","x":6400,"v":0.50},{"s":"2019","x":6475,"v":0.52},{"s":"2019","x":6550,"v":0.58},{"s":"2019","x":6625,"v":0.68},{"s":"2019","x":6700,"v":0.67},{"s":"2019","x":6775,"v":0.63},{"s":"2019","x":6850,"v":0.68},{"s":"2019","x":6925,"v":0.64},{"s":"2019","x":7000,"v":0.57},{"s":"2019","x":7075,"v":0.64},{"s":"2019","x":7150,"v":0.56},{"s":"2019","x":7225,"v":0.66},{"s":"2019","x":7300,"v":0.58},{"s":"2019","x":7375,"v":0.66},{"s":"2019","x":7450,"v":0.56},{"s":"2019","x":7525,"v":0.60},{"s":"2019","x":7600,"v":0.55},
{"s":"2019","x":4037,"v":0.76},{"s":"2019","x":4112,"v":0.77},{"s":"2019","x":4187,"v":0.68},{"s":"2019","x":4262,"v":0.80},{"s":"2019","x":4337,"v":0.60},{"s":"2019","x":4412,"v":0.62},{"s":"2019","x":4487,"v":0.60},{"s":"2019","x":4562,"v":0.52},{"s":"2019","x":4637,"v":0.44},{"s":"2019","x":4712,"v":0.52},{"s":"2019","x":4787,"v":0.62},{"s":"2019","x":4862,"v":0.60},{"s":"2019","x":4937,"v":0.58},{"s":"2019","x":5012,"v":0.64},{"s":"2019","x":5087,"v":0.58},{"s":"2019","x":5162,"v":0.62},{"s":"2019","x":5237,"v":0.60},{"s":"2019","x":5312,"v":0.62},{"s":"2019","x":5387,"v":0.56},{"s":"2019","x":5462,"v":0.70},{"s":"2019","x":5537,"v":0.76},{"s":"2019","x":5612,"v":0.80},{"s":"2019","x":5687,"v":0.74},{"s":"2019","x":5762,"v":0.77},{"s":"2019","x":5837,"v":0.66},{"s":"2019","x":5912,"v":0.58},{"s":"2019","x":5987,"v":0.50},{"s":"2019","x":6062,"v":0.62},{"s":"2019","x":6137,"v":0.76},{"s":"2019","x":6212,"v":0.56},{"s":"2019","x":6287,"v":0.66},{"s":"2019","x":6362,"v":0.58},{"s":"2019","x":6437,"v":0.54},{"s":"2019","x":6512,"v":0.56},{"s":"2019","x":6587,"v":0.64},{"s":"2019","x":6662,"v":0.62},{"s":"2019","x":6737,"v":0.68},{"s":"2019","x":6812,"v":0.66},{"s":"2019","x":6887,"v":0.62},{"s":"2019","x":6962,"v":0.60},{"s":"2019","x":7037,"v":0.62},{"s":"2019","x":7112,"v":0.58},{"s":"2019","x":7187,"v":0.62},{"s":"2019","x":7262,"v":0.60},{"s":"2019","x":7337,"v":0.64},{"s":"2019","x":7412,"v":0.60},{"s":"2019","x":7487,"v":0.62},{"s":"2019","x":7562,"v":0.57},
{"s":"2020","x":4000,"v":0.70},{"s":"2020","x":4075,"v":0.76},{"s":"2020","x":4150,"v":0.77},{"s":"2020","x":4225,"v":0.80},{"s":"2020","x":4300,"v":0.80},{"s":"2020","x":4375,"v":0.66},{"s":"2020","x":4450,"v":0.60},{"s":"2020","x":4525,"v":0.70},{"s":"2020","x":4600,"v":0.50},{"s":"2020","x":4675,"v":0.45},{"s":"2020","x":4750,"v":0.52},{"s":"2020","x":4825,"v":0.58},{"s":"2020","x":4900,"v":0.66},{"s":"2020","x":4975,"v":0.60},{"s":"2020","x":5050,"v":0.62},{"s":"2020","x":5125,"v":0.58},{"s":"2020","x":5200,"v":0.62},{"s":"2020","x":5275,"v":0.72},{"s":"2020","x":5350,"v":0.54},{"s":"2020","x":5425,"v":0.62},{"s":"2020","x":5500,"v":0.74},{"s":"2020","x":5575,"v":0.66},{"s":"2020","x":5650,"v":0.77},{"s":"2020","x":5725,"v":0.76},{"s":"2020","x":5800,"v":0.78},{"s":"2020","x":5875,"v":0.70},{"s":"2020","x":5950,"v":0.64},{"s":"2020","x":6025,"v":0.44},{"s":"2020","x":6100,"v":0.68},{"s":"2020","x":6175,"v":0.73},{"s":"2020","x":6250,"v":0.55},{"s":"2020","x":6325,"v":0.70},{"s":"2020","x":6400,"v":0.54},{"s":"2020","x":6475,"v":0.50},{"s":"2020","x":6550,"v":0.56},{"s":"2020","x":6625,"v":0.62},{"s":"2020","x":6700,"v":0.69},{"s":"2020","x":6775,"v":0.65},{"s":"2020","x":6850,"v":0.66},{"s":"2020","x":6925,"v":0.68},{"s":"2020","x":7000,"v":0.66},{"s":"2020","x":7075,"v":0.55},{"s":"2020","x":7150,"v":0.62},{"s":"2020","x":7225,"v":0.60},{"s":"2020","x":7300,"v":0.66},{"s":"2020","x":7375,"v":0.56},{"s":"2020","x":7450,"v":0.64},{"s":"2020","x":7525,"v":0.58},{"s":"2020","x":7600,"v":0.60},
{"s":"2020","x":4037,"v":0.74},{"s":"2020","x":4112,"v":0.80},{"s":"2020","x":4187,"v":0.76},{"s":"2020","x":4262,"v":0.72},{"s":"2020","x":4337,"v":0.74},{"s":"2020","x":4412,"v":0.58},{"s":"2020","x":4487,"v":0.66},{"s":"2020","x":4562,"v":0.60},{"s":"2020","x":4637,"v":0.46},{"s":"2020","x":4712,"v":0.48},{"s":"2020","x":4787,"v":0.56},{"s":"2020","x":4862,"v":0.62},{"s":"2020","x":4937,"v":0.62},{"s":"2020","x":5012,"v":0.64},{"s":"2020","x":5087,"v":0.56},{"s":"2020","x":5162,"v":0.64},{"s":"2020","x":5237,"v":0.66},{"s":"2020","x":5312,"v":0.60},{"s":"2020","x":5387,"v":0.58},{"s":"2020","x":5462,"v":0.68},{"s":"2020","x":5537,"v":0.70},{"s":"2020","x":5612,"v":0.74},{"s":"2020","x":5687,"v":0.78},{"s":"2020","x":5762,"v":0.80},{"s":"2020","x":5837,"v":0.74},{"s":"2020","x":5912,"v":0.66},{"s":"2020","x":5987,"v":0.52},{"s":"2020","x":6062,"v":0.56},{"s":"2020","x":6137,"v":0.72},{"s":"2020","x":6212,"v":0.62},{"s":"2020","x":6287,"v":0.62},{"s":"2020","x":6362,"v":0.60},{"s":"2020","x":6437,"v":0.52},{"s":"2020","x":6512,"v":0.54},{"s":"2020","x":6587,"v":0.58},{"s":"2020","x":6662,"v":0.66},{"s":"2020","x":6737,"v":0.66},{"s":"2020","x":6812,"v":0.67},{"s":"2020","x":6887,"v":0.64},{"s":"2020","x":6962,"v":0.67},{"s":"2020","x":7037,"v":0.60},{"s":"2020","x":7112,"v":0.60},{"s":"2020","x":7187,"v":0.58},{"s":"2020","x":7262,"v":0.64},{"s":"2020","x":7337,"v":0.60},{"s":"2020","x":7412,"v":0.60},{"s":"2020","x":7487,"v":0.60},{"s":"2020","x":7562,"v":0.59}
  ]
},
"vconcat": [{
  "title": {"text": "Figure 20.  CSC per year 4405A628_60_CL11000A628_189_CR11000A628_179_CR11000A628_165_CR1", "orient": "bottom", "anchor": "start", "font": "DejaVu Sans", "fontSize": 18.4, "fontWeight": "bold", "color": "#0b8868", "offset": 41, "dx": -6},
  "vconcat": [{
    "title": {"text": "Chainage (m)", "orient": "bottom", "anchor": "middle", "fontSize": 10.5, "fontWeight": "normal", "color": "#333333", "offset": 37, "dx": 21},
    "hconcat": [
      {
        "width": 428, "height": 430,
        "layer": [
          {"data": {"name": "Lband"}, "mark": {"type": "rect", "color": "#cfcfcf", "opacity": 0.4},
           "encoding": {"x": {"field": "a", "type": "quantitative", "scale": {"domain": [0, 500], "nice": false, "zero": false}, "axis": {"values": [0, 500], "format": "d", "grid": false, "title": null}}, "x2": {"field": "b"}}},
          {"data": {"name": "L"}, "mark": {"type": "line", "interpolate": "step-after", "strokeWidth": 1.1, "clip": true},
           "encoding": {
             "x": {"field": "x", "type": "quantitative"},
             "y": {"field": "v", "type": "quantitative", "scale": {"domain": [0, 0.8], "nice": false}, "axis": {"values": [0, 0.1, 0.2, 0.3, 0.4, 0.5, 0.6, 0.7, 0.8], "format": ".1f", "title": "Characteristic skid coefficient", "grid": true}},
             "color": {"field": "s", "type": "nominal", "legend": {"title": null},
               "scale": {"domain": ["Pre-installation", "2010", "2011", "2012", "2013", "2014", "2015", "2016", "2017", "Post-installation", "2018", "2019", "2020", " ", "Investigatory level", "  ", "A: Material A", "(Installation year)"],
                         "range": ["transparent", "#3a3a3a", "#2e5a2e", "#4a4a4a", "#2a5a2a", "#333333", "#3d7a3d", "#262626", "#4caf50", "transparent", "#a3505f", "#c43c3c", "#d46a6a", "transparent", "#1a1ad6", "transparent", "transparent", "transparent"]}},
             "strokeDash": {"field": "s", "type": "nominal", "legend": {"title": null},
               "scale": {"domain": ["Pre-installation", "2010", "2011", "2012", "2013", "2014", "2015", "2016", "2017", "Post-installation", "2018", "2019", "2020", " ", "Investigatory level", "  ", "A: Material A", "(Installation year)"],
                         "range": [[1, 0], [3, 2], [3, 2], [3, 2], [3, 2], [3, 2], [3, 2], [3, 2], [3, 2], [1, 0], [1, 0], [1, 0], [1, 0], [1, 0], [1, 0], [1, 0], [1, 0], [1, 0]]}}
           }},
          {"data": {"name": "LB"}, "mark": {"type": "line", "interpolate": "step-after", "strokeWidth": 2.5},
           "encoding": {"x": {"field": "x", "type": "quantitative"}, "y": {"field": "v", "type": "quantitative"}, "color": {"field": "s", "type": "nominal", "legend": {"title": null}}, "strokeDash": {"field": "s", "type": "nominal", "legend": {"title": null}}}},
          {"data": {"name": "Lrule"}, "mark": {"type": "rule", "color": "#111111", "strokeDash": [4, 3], "strokeWidth": 1.5},
           "encoding": {"x": {"field": "x", "type": "quantitative"}}},
          {"data": {"name": "Llab"}, "mark": {"type": "text", "angle": 270, "align": "left", "baseline": "middle", "fontSize": 14.2, "color": "#222222"},
           "encoding": {"x": {"field": "x", "type": "quantitative"}, "y": {"datum": 0.072}, "text": {"field": "t"}}},
          {"data": {"name": "LA"}, "mark": {"type": "text", "lineBreak": "\n", "lineHeight": 15, "fontSize": 12.5, "color": "#222222", "baseline": "middle"},
           "encoding": {"x": {"field": "x", "type": "quantitative"}, "y": {"datum": 0.05}, "text": {"field": "t"}}}
        ]
      },
      {
        "width": 432, "height": 430,
        "layer": [
          {"data": {"name": "Rband"}, "mark": {"type": "rect", "color": "#cfcfcf", "opacity": 0.4},
           "encoding": {"x": {"field": "a", "type": "quantitative", "scale": {"domain": [4000, 7600], "nice": false, "zero": false}, "axis": {"values": [4000, 4500, 5000, 5500, 6000, 6500, 7000, 7500], "format": "d", "grid": true, "title": null}}, "x2": {"field": "b"}}},
          {"data": {"name": "R"}, "mark": {"type": "line", "strokeWidth": 1.1, "clip": true},
           "encoding": {
             "x": {"field": "x", "type": "quantitative"},
             "y": {"field": "v", "type": "quantitative", "scale": {"domain": [0, 0.8], "nice": false}, "axis": {"values": [0, 0.1, 0.2, 0.3, 0.4, 0.5, 0.6, 0.7, 0.8], "format": ".1f", "title": null, "grid": true}},
             "color": {"field": "s", "type": "nominal", "legend": {"title": null}},
             "strokeDash": {"field": "s", "type": "nominal", "legend": {"title": null}}
           }},
          {"data": {"name": "RB"}, "mark": {"type": "line", "interpolate": "step-after", "strokeWidth": 2.5},
           "encoding": {"x": {"field": "x", "type": "quantitative"}, "y": {"field": "v", "type": "quantitative"}, "color": {"field": "s", "type": "nominal", "legend": {"title": null}}, "strokeDash": {"field": "s", "type": "nominal", "legend": {"title": null}}}},
          {"data": {"name": "Rrule"}, "mark": {"type": "rule", "color": "#111111", "strokeDash": [5, 3], "strokeWidth": 2},
           "encoding": {"x": {"field": "x", "type": "quantitative"}}},
          {"data": {"name": "Rlab"}, "mark": {"type": "text", "angle": 270, "align": "left", "baseline": "middle", "fontSize": 14.2, "color": "#222222"},
           "encoding": {"x": {"field": "x", "type": "quantitative"}, "y": {"datum": 0.072}, "text": {"field": "t"}}},
          {"data": {"name": "RA"}, "mark": {"type": "text", "lineBreak": "\n", "lineHeight": 15, "fontSize": 12.5, "color": "#222222", "baseline": "middle"},
           "encoding": {"x": {"field": "x", "type": "quantitative"}, "y": {"datum": 0.05}, "text": {"field": "t"}}}
        ]
      }
    ]
  }]
}]
}
